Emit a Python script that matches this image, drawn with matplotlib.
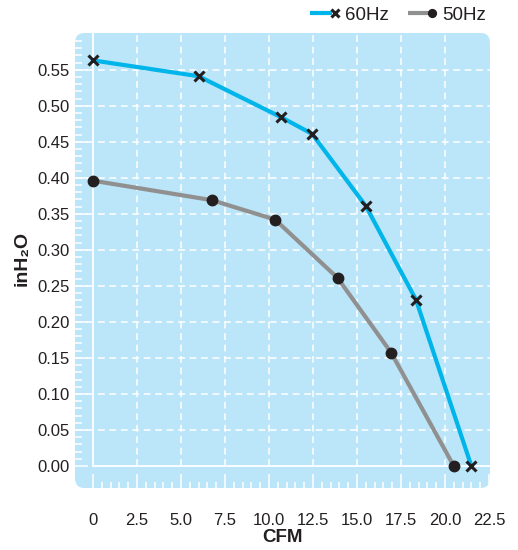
import numpy as np
import matplotlib
matplotlib.use("Agg")
import matplotlib.pyplot as plt
from matplotlib.lines import Line2D
from matplotlib.patches import FancyBboxPatch
from matplotlib.legend_handler import HandlerLine2D
from matplotlib.ticker import FixedLocator, FuncFormatter

# fan curve data
cfm_60 = [0.0, 6.0, 10.7, 12.45, 15.5, 18.35, 21.5]
p_60 = [0.563, 0.541, 0.484, 0.461, 0.361, 0.231, 0.0]
cfm_50 = [0.0, 6.75, 10.35, 13.9, 16.95, 20.5]
p_50 = [0.396, 0.369, 0.342, 0.261, 0.157, 0.0]

x_ticks = [0, 2.5, 5.0, 7.5, 10.0, 12.5, 15.0, 17.5, 20.0, 22.5]
y_ticks = [0.00, 0.05, 0.10, 0.15, 0.20, 0.25, 0.30, 0.35, 0.40, 0.45, 0.50, 0.55]

BG = "#bbe5f8"
CYAN = "#00b5e9"
GREY = "#909090"
DARK = "#231f20"
TXT = "#231f20"

tick_font = ["Liberation Sans Narrow", "Liberation Sans", "DejaVu Sans"]
plt.rcParams["font.family"] = ["Liberation Sans", "DejaVu Sans"]


class EndMarkerHandler(HandlerLine2D):
    # line with the marker sitting at its right end
    def create_artists(self, legend, orig_handle, xdescent, ydescent,
                       width, height, fontsize, trans):
        y = (height - ydescent) / 2
        ln = Line2D([-xdescent, width - xdescent - 6], [y, y],
                    color=orig_handle.get_color(),
                    lw=orig_handle.get_linewidth(), solid_capstyle="butt")
        mk = Line2D([width - xdescent - 4], [y], ls="none",
                    marker=orig_handle.get_marker(),
                    markersize=orig_handle.get_markersize() * 0.75,
                    markeredgewidth=orig_handle.get_markeredgewidth(),
                    color=DARK)
        ln.set_transform(trans)
        mk.set_transform(trans)
        return [ln, mk]


fig = plt.figure(figsize=(5.18, 5.5), dpi=100)
ax = fig.add_axes([75 / 518, 1 - 488 / 550, 415 / 518, 455 / 550])
ax.set_facecolor("none")

xl, xr = -1.02, 22.56
yb, yt = -0.0306, 0.601
ax.set_xlim(xl, xr)
ax.set_ylim(yb, yt)

bg = FancyBboxPatch((0, 0), 1, 1, boxstyle="round,pad=0,rounding_size=0.022",
                    transform=ax.transAxes, facecolor=BG, edgecolor="none",
                    zorder=0, clip_on=False)
ax.add_patch(bg)

for s in ax.spines.values():
    s.set_visible(False)

# dashed white grid
ax.hlines(y_ticks[1:], xl, xr, colors="white", lw=1.1, linestyles=(0, (4.5, 3)), zorder=1)
ax.vlines(x_ticks[1:-1], 0, yt, colors="white", lw=1.1, linestyles=(0, (4.5, 3)), zorder=1)
# solid zero lines
ax.plot([0, xr], [0, 0], color="white", lw=1.3, zorder=1)
ax.plot([0, 0], [0, yt], color="white", lw=1.3, zorder=1)

ax.plot(cfm_60, p_60, color=CYAN, lw=3.0, zorder=3, solid_joinstyle="round")
ax.plot(cfm_50, p_50, color=GREY, lw=3.0, zorder=3, solid_joinstyle="round")
ax.plot(cfm_60, p_60, ls="none", marker="x", ms=7, mew=2.2, color=DARK, zorder=4, clip_on=False)
ax.plot(cfm_50, p_50, ls="none", marker="o", ms=7.5, color=DARK, zorder=4, clip_on=False)

# ticks: white, pointing into the blue box
ax.xaxis.set_major_locator(FixedLocator(x_ticks))
ax.xaxis.set_minor_locator(FixedLocator(np.arange(0, 22.6, 0.5)))
ax.yaxis.set_major_locator(FixedLocator(y_ticks))
ax.yaxis.set_minor_locator(FixedLocator(np.arange(0, 0.595, 0.01)))
ax.xaxis.set_major_formatter(FuncFormatter(lambda v, p: "0" if v == 0 else f"{v:.1f}"))
ax.yaxis.set_major_formatter(FuncFormatter(lambda v, p: f"{v:.2f}"))

ax.tick_params(which="both", direction="in", color="white", width=1.1)
ax.tick_params(axis="x", which="major", length=10, pad=18, labelsize=12, labelcolor=TXT)
ax.tick_params(axis="x", which="minor", length=4.5)
ax.tick_params(axis="y", which="major", length=9, pad=4, labelsize=12, labelcolor=TXT)
ax.tick_params(axis="y", which="minor", length=5)
for lab in ax.get_xticklabels() + ax.get_yticklabels():
    lab.set_family(tick_font)

ax.set_xlabel("CFM", fontsize=13.5, fontweight="bold", color=TXT, labelpad=1)
fig.text(22 / 518, 1 - 258 / 550, "inH₂O", rotation=90, fontsize=14,
         fontweight="bold", color=TXT, ha="center", va="center")

h60 = Line2D([], [], color=CYAN, lw=3.0, marker="x", ms=7, mew=2.2)
h50 = Line2D([], [], color=GREY, lw=3.0, marker="o", ms=7.5, mew=1)
ax.legend([h60, h50], ["60Hz", "50Hz"], ncol=2, frameon=False,
          loc="center right", bbox_to_anchor=(486 / 518, 1 - 15 / 550),
          bbox_transform=fig.transFigure, borderaxespad=0, borderpad=0,
          handlelength=1.6, handletextpad=0.25, columnspacing=1.0,
          prop={"size": 13.5}, labelcolor=TXT,
          handler_map={Line2D: EndMarkerHandler()})

fig.savefig("out.png", dpi=100)
